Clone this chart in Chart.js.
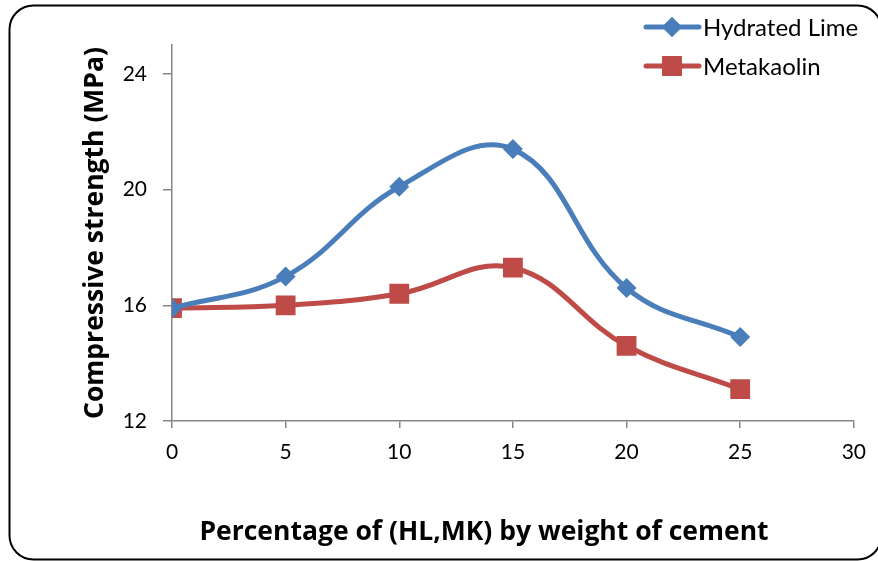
<!DOCTYPE html>
<html>
<head>
<meta charset="utf-8">
<script src="https://cdn.jsdelivr.net/npm/chart.js@4"></script>
<style>
  html, body { margin: 0; padding: 0; background: #fff; }
  #wrap { width: 878px; height: 561px; position: relative; }
</style>
</head>
<body>
<div id="wrap"><canvas id="c" width="878" height="561"></canvas></div>
<script>
// Data
const percent = [0, 5, 10, 15, 20, 25];
const hydratedLime = [15.9, 17.0, 20.1, 21.4, 16.6, 14.9];
const metakaolin = [15.9, 16.0, 16.4, 17.3, 14.6, 13.1];
const yTicks = [12, 16, 20, 24];
const xTitle = 'Percentage of (HL,MK) by weight of cement';
const yTitle = 'Compressive strength (MPa)';

const FONT = 'Lato, "Open Sans", sans-serif';
const TITLE_FONT = '"Open Sans", Lato, sans-serif';
const BLUE = '#4A7EBB';
const RED = '#BE4B48';
const AXIS = '#868686';

const pts = arr => arr.map((v, i) => ({ x: percent[i], y: v }));

// Frame around the whole chart plus the white background
const framePlugin = {
    id: 'frame',
    beforeDraw(chart) {
        const ctx = chart.ctx;
        ctx.save();
        ctx.fillStyle = '#fff';
        ctx.fillRect(0, 0, chart.width, chart.height);
        ctx.restore();
    },
    afterDraw(chart) {
        const ctx = chart.ctx;
        ctx.save();
        ctx.strokeStyle = '#000';
        ctx.lineWidth = 2;
        ctx.beginPath();
        ctx.roundRect(9.5, 5.5, 872, 554, 24);
        ctx.stroke();
        // x axis title sits a bit left of the plot centre, as in the original
        ctx.fillStyle = '#000';
        ctx.font = 'bold 26.5px ' + TITLE_FONT;
        ctx.textAlign = 'center';
        ctx.textBaseline = 'middle';
        ctx.fillText(xTitle, 484, 532);
        ctx.restore();
    }
};

// Legend drawn to the right top, one entry per line
const legendPlugin = {
    id: 'sideLegend',
    afterDraw(chart) {
        const ctx = chart.ctx;
        const rows = [
            { label: 'Hydrated Lime', color: BLUE, style: 'rectRot', r: 10, y: 27 },
            { label: 'Metakaolin', color: RED, style: 'rect', r: 14, y: 66 }
        ];
        ctx.save();
        rows.forEach(row => {
            ctx.strokeStyle = row.color;
            ctx.lineWidth = 5;
            ctx.lineCap = 'round';
            ctx.beginPath();
            ctx.moveTo(646, row.y);
            ctx.lineTo(699, row.y);
            ctx.stroke();
            ctx.fillStyle = row.color;
            Chart.helpers.drawPoint(ctx, { pointStyle: row.style, radius: row.r, borderWidth: 0 }, 672, row.y);
            ctx.fill();
            ctx.fillStyle = '#000';
            ctx.font = '24px ' + FONT;
            ctx.textBaseline = 'middle';
            ctx.fillText(row.label, 703, row.y + 1);
        });
        ctx.restore();
    }
};

new Chart(document.getElementById('c'), {
    type: 'line',
    data: {
        datasets: [
            {
                label: 'Hydrated Lime',
                data: pts(hydratedLime),
                borderColor: BLUE,
                backgroundColor: BLUE,
                borderWidth: 5,
                pointStyle: 'rectRot',
                pointRadius: 10,
                pointBorderWidth: 0,
                tension: 0.4
            },
            {
                label: 'Metakaolin',
                data: pts(metakaolin),
                borderColor: RED,
                backgroundColor: RED,
                borderWidth: 5,
                pointStyle: 'rect',
                pointRadius: 14,
                pointBorderWidth: 0,
                tension: 0.4
            }
        ]
    },
    options: {
        responsive: false,
        animation: false,
        layout: { padding: { top: 45, right: 21, left: 0, bottom: 0 } },
        plugins: {
            legend: { display: false },
            tooltip: { enabled: false }
        },
        scales: {
            x: {
                type: 'linear',
                min: 0,
                max: 30,
                ticks: { stepSize: 5, color: '#000', font: { family: FONT, size: 21 }, padding: 12, maxRotation: 0 },
                grid: { drawOnChartArea: false, drawTicks: true, tickLength: 7, color: AXIS, lineWidth: 1.5 },
                border: { color: AXIS, width: 1.5 },
                afterFit(scale) { scale.height = 140; }
            },
            y: {
                min: 12,
                max: 25,
                ticks: { stepSize: 4, color: '#000', font: { family: FONT, size: 21 }, padding: 16 },
                afterBuildTicks(scale) { scale.ticks = yTicks.map(v => ({ value: v })); },
                grid: { drawOnChartArea: false, drawTicks: true, tickLength: 9, color: AXIS, lineWidth: 1.5 },
                border: { color: AXIS, width: 1.5 },
                title: {
                    display: true,
                    text: yTitle,
                    color: '#000',
                    font: { family: TITLE_FONT, size: 26.5, weight: 'bold' },
                    padding: { top: 80, bottom: 0 }
                },
                afterFit(scale) { scale.width = 172; }
            }
        }
    },
    plugins: [framePlugin, legendPlugin]
});
</script>
</body>
</html>
